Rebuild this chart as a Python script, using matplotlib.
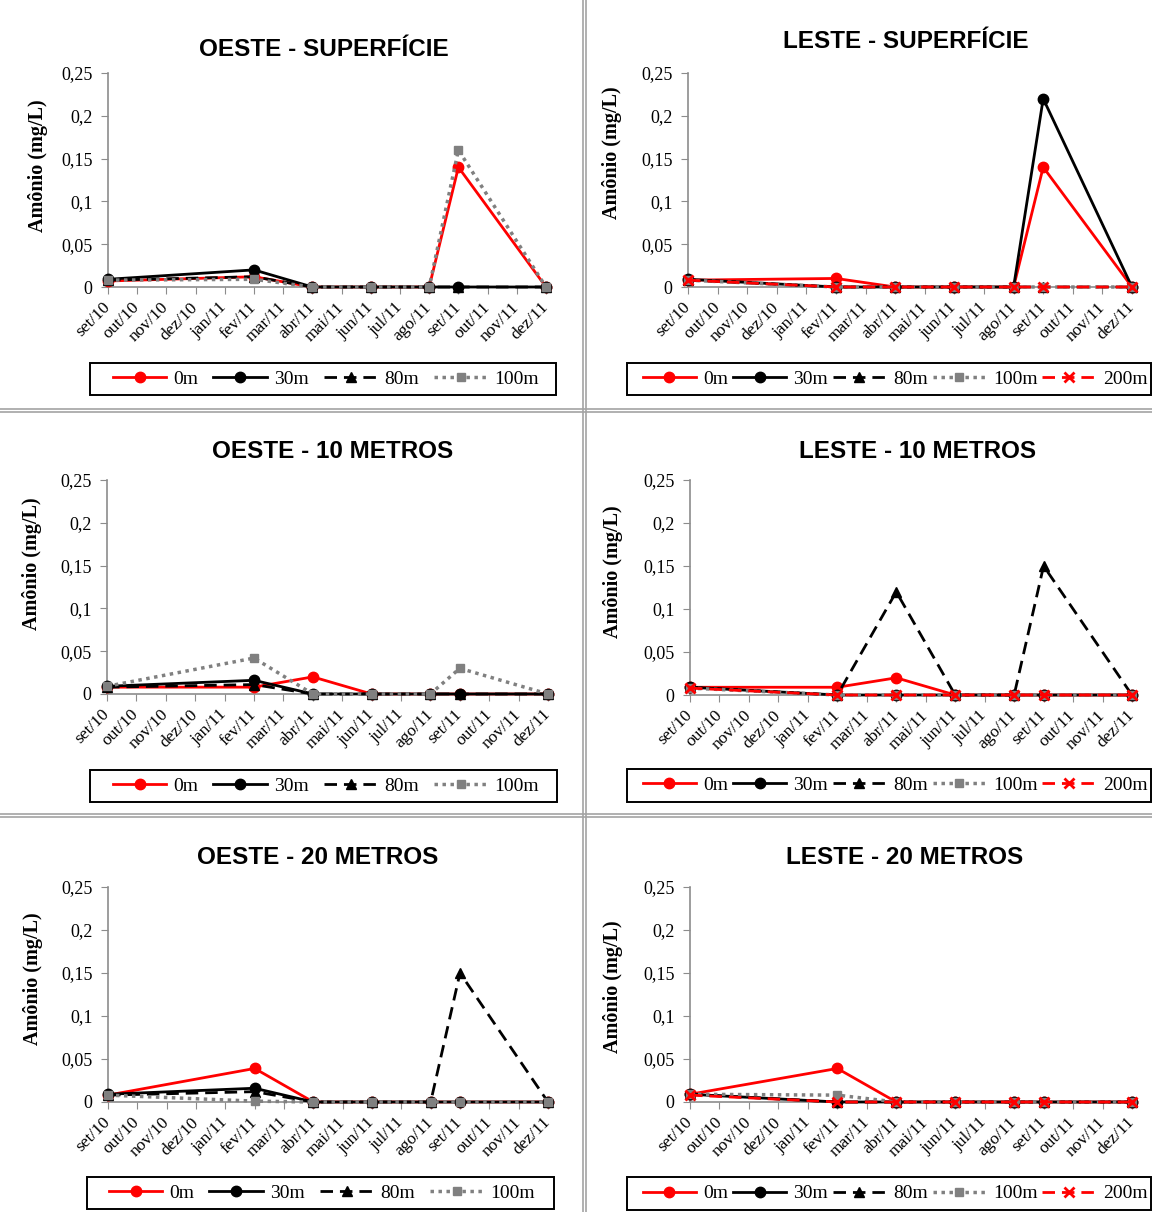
import matplotlib
matplotlib.use('Agg')
import matplotlib.pyplot as plt
from matplotlib.lines import Line2D
from matplotlib.patches import Rectangle

W, H = 1152, 1212

months = ['set/10', 'out/10', 'nov/10', 'dez/10', 'jan/11', 'fev/11', 'mar/11',
          'abr/11', 'mai/11', 'jun/11', 'jul/11', 'ago/11', 'set/11', 'out/11',
          'nov/11', 'dez/11']
# months with samples (index in months list)
sample_idx = [0, 5, 7, 9, 11, 12, 15]

yticks = [0, 0.05, 0.1, 0.15, 0.2, 0.25]
ytick_labels = ['0', '0,05', '0,1', '0,15', '0,2', '0,25']

oeste_sup = {
    '0m':   [0.007, 0.012, 0, 0, 0, 0.14, 0],
    '30m':  [0.009, 0.020, 0, 0, 0, 0, 0],
    '80m':  [0.008, 0.012, 0, 0, 0, 0, 0],
    '100m': [0.008, 0.009, 0, 0, 0, 0.16, 0],
}
leste_sup = {
    '0m':   [0.008, 0.010, 0, 0, 0, 0.14, 0],
    '30m':  [0.009, 0, 0, 0, 0, 0.22, 0],
    '80m':  [0.008, 0, 0, 0, 0, 0, 0],
    '100m': [0.008, 0, 0, 0, 0, 0, 0],
    '200m': [0.008, 0, 0, 0, 0, 0, 0],
}
oeste_10 = {
    '0m':   [0.008, 0.008, 0.02, 0, 0, 0, 0],
    '30m':  [0.009, 0.016, 0, 0, 0, 0, 0],
    '80m':  [0.008, 0.011, 0, 0, 0, 0, 0],
    '100m': [0.009, 0.042, 0, 0, 0, 0.03, 0],
}
leste_10 = {
    '0m':   [0.009, 0.009, 0.02, 0, 0, 0, 0],
    '30m':  [0.009, 0, 0, 0, 0, 0, 0],
    '80m':  [0.009, 0, 0.12, 0, 0, 0.15, 0],
    '100m': [0.008, 0, 0, 0, 0, 0, 0],
    '200m': [0.008, 0, 0, 0, 0, 0, 0],
}
oeste_20 = {
    '0m':   [0.008, 0.039, 0, 0, 0, 0, 0],
    '30m':  [0.009, 0.016, 0, 0, 0, 0, 0],
    '80m':  [0.008, 0.012, 0, 0, 0, 0.15, 0],
    '100m': [0.008, 0.001, 0, 0, 0, 0, 0],
}
leste_20 = {
    '0m':   [0.009, 0.039, 0, 0, 0, 0, 0],
    '30m':  [0.009, 0, 0, 0, 0, 0, 0],
    '80m':  [0.009, 0, 0, 0, 0, 0, 0],
    '100m': [0.009, 0.008, 0, 0, 0, 0, 0],
    '200m': [0.008, 0, 0, 0, 0, 0, 0],
}

styles = {
    '0m':   dict(color='#ff0000', ls='-', lw=2, marker='o', ms=7.5),
    '30m':  dict(color='black', ls='-', lw=2, marker='o', ms=7.5),
    '80m':  dict(color='black', ls=(0, (4.5, 2.5)), lw=2, marker='^', ms=7),
    '100m': dict(color='#808080', ls=(0, (1, 1.3)), lw=2.5, marker='s', ms=6),
    '200m': dict(color='#ff0000', ls=(0, (4.5, 2.5)), lw=2, marker='x', ms=7, mew=2),
}

# title, data, axes box (left, right, top, bottom px), title pos, ylabel pos,
# legend frame (left, right, top, bottom px), legend content centre x
panels = [
    ('OESTE - SUPERFÍCIE', oeste_sup, (108, 546, 73, 287), (324, 50), (38, 166), (90, 556, 363, 395), 326),
    ('LESTE - SUPERFÍCIE', leste_sup, (688, 1132, 73, 287), (906, 41), (612, 153), (627, 1151, 363, 395), 895),
    ('OESTE - 10 METROS', oeste_10, (107, 548, 480, 694), (333, 452), (32, 564), (90, 557, 770, 802), 326),
    ('LESTE - 10 METROS', leste_10, (690, 1132, 480, 695), (918, 451), (613, 572), (627, 1151, 769, 802), 895),
    ('OESTE - 20 METROS', oeste_20, (108, 548, 887, 1102), (318, 858), (33, 979), (87, 554, 1177, 1209), 322),
    ('LESTE - 20 METROS', leste_20, (690, 1132, 887, 1102), (905, 858), (613, 987), (627, 1151, 1177, 1210), 895),
]

serif = 'Liberation Serif'
sans = 'Liberation Sans'
axis_gray = '#8c8c8c'

fig = plt.figure(figsize=(W / 100, H / 100), dpi=100)

for title, data, box, tpos, ypos, lbox, lcx in panels:
    l, r, t, b = box
    ax = fig.add_axes([l / W, 1 - b / H, (r - l) / W, (b - t) / H])
    handles = []
    for name, vals in data.items():
        ln, = ax.plot(sample_idx, vals, clip_on=False, zorder=3, label=name, **styles[name])
        handles.append(ln)
    ax.set_xlim(0, len(months) - 1)
    ax.set_ylim(0, 0.25)
    ax.set_xticks(range(len(months)))
    ax.set_xticklabels(months, rotation=45, ha='right', va='center',
                       rotation_mode='anchor', fontfamily=serif, fontsize=12.5)
    ax.set_yticks(yticks)
    ax.set_yticklabels(ytick_labels, fontfamily=serif, fontsize=13)
    ax.tick_params(axis='x', direction='out', length=5, color=axis_gray, pad=8)
    ax.tick_params(axis='y', direction='out', length=5, color=axis_gray, pad=6)
    for s in ['top', 'right']:
        ax.spines[s].set_visible(False)
    for s in ['left', 'bottom']:
        ax.spines[s].set_color(axis_gray)
        ax.spines[s].set_linewidth(1.2)

    fig.text(tpos[0] / W, 1 - tpos[1] / H, title, ha='center', va='center',
             fontfamily=sans, fontweight='bold', fontsize=17.5)
    fig.text(ypos[0] / W, 1 - ypos[1] / H, 'Amônio (mg/L)', ha='center', va='center',
             rotation=90, fontfamily=serif, fontweight='bold', fontsize=14.5)

    ll, lr, lt, lb = lbox
    colsp = 0.79 if len(handles) == 4 else 0.25
    fig.legend(handles=handles, loc='center', ncol=len(handles),
               bbox_to_anchor=(lcx / W, 1 - (lt + lb) / 2 / H),
               bbox_transform=fig.transFigure, frameon=False,
               handlelength=2.75, handletextpad=0.35, columnspacing=colsp,
               borderpad=0, borderaxespad=0, prop={'family': serif, 'size': 14})
    fig.add_artist(Rectangle((ll / W, 1 - lb / H), (lr - ll) / W, (lb - lt) / H,
                             transform=fig.transFigure, fill=False,
                             edgecolor='black', lw=1.4))

# panel separators (double gray lines)
sep_color = '#a3a3a3'
for xs in (582.5, 585.5):
    fig.add_artist(Line2D([xs / W, xs / W], [0, 1], color=sep_color, lw=1.2))
for ys in (408.5, 411.5, 813.5, 816.5):
    fig.add_artist(Line2D([0, 1], [1 - ys / H, 1 - ys / H], color=sep_color, lw=1.2))

fig.savefig('out.png', dpi=100)
